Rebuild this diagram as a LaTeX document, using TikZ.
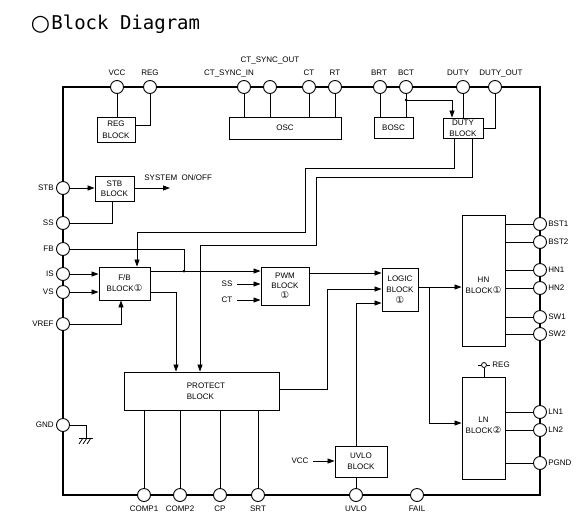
\documentclass[tikz,border=0pt]{standalone}
\usepackage{fontspec}
\setmainfont{Liberation Sans}
\newfontfamily\dvs{DejaVu Sans}
\newfontfamily\dvm{DejaVu Sans Mono}
\usetikzlibrary{arrows.meta,calc}
\newcommand{\cn}[1]{{\fontsize{9.5}{9.5}\selectfont\dvs #1}}
\begin{document}
\begin{tikzpicture}[x=1pt,y=-1pt,
  font=\fontsize{8}{11}\selectfont, line width=0.8pt,
  frame/.style={line width=2.8pt},
  pinc/.style={circle,draw,fill=white,line width=0.9pt,minimum size=13pt,inner sep=0pt},
  blk/.style={draw,fill=white,align=center,inner sep=0pt,line width=0.9pt},
  lbl/.style={inner sep=0pt},
  arr/.style={-{Triangle[length=7pt,width=5pt]}},
  dot/.style={circle,fill,inner sep=0pt,minimum size=3pt}]
\useasboundingbox (0,0) rectangle (586,523);

% title
\node[anchor=base west,inner sep=0pt] (tcirc) at (30.5,30) {\fontsize{22}{22}\selectfont\dvs ○};
\node[anchor=base west,inner sep=0pt] (title) at (51,29) {\fontsize{19}{19}\selectfont\dvm Block Diagram};

% frame
\draw[frame] (63,87) rectangle (540,495);

% top pins
\foreach \n/\x in {vcc/117,reg/150,ctsi/244,ctso/270,ct/309,rt/335,brt/380,bct/406,duty/463,dutyo/495}
  \node[pinc] (\n) at (\x,87) {};
\node[lbl] (lvcc) at (117,73) {VCC};
\node[lbl] (lreg) at (150,73) {REG};
\node[lbl] (lctsi) at (229,73) {CT\_SYNC\_IN};
\node[lbl] (lctso) at (270,60) {CT\_SYNC\_OUT};
\node[lbl] (lct) at (309,73) {CT};
\node[lbl] (lrt) at (335,73) {RT};
\node[lbl] (lbrt) at (379,73) {BRT};
\node[lbl] (lbct) at (406,73) {BCT};
\node[lbl] (lduty) at (458,73) {DUTY};
\node[lbl] (ldutyo) at (501,73) {DUTY\_OUT};

% left pins
\foreach \n/\y/\t in {stb/188/STB,ss/223/SS,fb/249/FB,is/274/IS,vs/292/VS,vref/324/VREF,gnd/425/GND}{
  \node[pinc] (\n) at (63,\y) {};
  \node[lbl,anchor=east] (l\n) at (54,\y) {\t};
}
% right pins
\foreach \n/\y/\t in {bst1/224/BST1,bst2/242/BST2,hn1/270/HN1,hn2/288/HN2,sw1/317/SW1,sw2/334/SW2,ln1/412/LN1,ln2/430/LN2,pgnd/463/PGND}{
  \node[pinc] (\n) at (540,\y) {};
  \node[lbl,anchor=west] (l\n) at (548,\y) {\t};
}
% bottom pins
\foreach \n/\x/\t in {comp1/144/COMP1,comp2/180/COMP2,cp/220/CP,srt/258/SRT,uvlo/356/UVLO,fail/417/FAIL}{
  \node[pinc] (\n) at (\x,495) {};
  \node[lbl] (l\n) at (\x,509) {\t};
}

% blocks
\node[blk,minimum width=38pt,minimum height=25pt,font=\fontsize{8}{12}\selectfont] (regb) at (116,129.5) {REG\\BLOCK};
\node[blk,minimum width=112pt,minimum height=22pt] (osc) at (285,128) {OSC};
\node[blk,minimum width=39pt,minimum height=21pt] (bosc) at (393.5,127.5) {BOSC};
\node[blk,minimum width=40pt,minimum height=20pt] (dutyb) at (463,128) {DUTY\\BLOCK};
\node[blk,minimum width=39pt,minimum height=25pt,font=\fontsize{8}{10}\selectfont] (stbb) at (114.5,188.5) {STB\\BLOCK};
\node[blk,minimum width=51pt,minimum height=33pt] (fbb) at (124.5,283.5) {F/B\\BLOCK\cn{①}};
\node[blk,minimum width=48pt,minimum height=38pt,font=\fontsize{8}{10}\selectfont] (pwmb) at (285,286) {PWM\\BLOCK\\\cn{①}};
\node[blk,minimum width=36pt,minimum height=43pt,font=\fontsize{8}{11}\selectfont] (logicb) at (400,289.5) {LOGIC\\BLOCK\\\cn{①}};
\node[blk,minimum width=43pt,minimum height=131pt] (hnb) at (483.5,280.5) {};
\node[lbl,align=center] (hnt) at (483.5,285) {HN\\BLOCK\cn{①}};
\node[blk,minimum width=43pt,minimum height=102pt] (lnb) at (483.5,428) {};
\node[lbl,align=center] (lnt) at (483.5,425) {LN\\BLOCK\cn{②}};
\node[blk,minimum width=155pt,minimum height=38pt] (prot) at (201.5,391) {};
\node[lbl,align=left] (prott) at (206,391) {PROTECT\\BLOCK};
\node[blk,minimum width=52pt,minimum height=31pt] (uvlob) at (361,461.5) {UVLO\\BLOCK};

% top connections
\draw (vcc) -- (vcc |- regb.north);
\draw (reg) |- ([yshift=4.5pt]regb.east);
\foreach \p in {ctsi,ctso,ct,rt} \draw (\p) -- (\p |- osc.north);
\draw (brt) -- (brt |- bosc.north);
\draw (bct) -- (bct |- bosc.north);
\coordinate (bctj) at (406,100);
\node[dot] (bctdot) at (bctj) {};
\draw[arr] (bctj) -| ([xshift=-11pt]dutyb.north);
\draw (duty) -- (duty |- dutyb.north);
\draw (dutyo) |- (dutyb.east);

% duty outputs
\coordinate (da) at (305,168);
\coordinate (db) at (137,232);
\draw[arr] ([xshift=-9pt]dutyb.south) |- (da) |- (db) -- (db |- fbb.north);
\coordinate (dc) at (316,177);
\coordinate (dd) at (200,245);
\draw[arr] ([xshift=9pt]dutyb.south) |- (dc) |- (dd) -- (dd |- prot.north);

% STB
\draw[arr] (stb) -- (stbb.west |- stb);
\coordinate (sysend) at (170,188);
\draw[arr] (stbb.east |- sysend) -- (sysend);
\node[lbl,anchor=west] (sysl) at (144,178) {SYSTEM\ \ ON/OFF};
\draw (ss) -| ([xshift=-2.5pt]stbb.south);

% F/B
\coordinate (jfb) at (184,271);
\draw (fb) -| (jfb);
\node[dot] (jdot) at (jfb) {};
\draw[arr] (fbb.east |- jfb) -- (pwmb.west |- jfb);
\coordinate (fbo2) at (176,292);
\draw[arr] (fbb.east |- fbo2) -| (fbo2 |- prot.north);
\draw[arr] (is) -- (fbb.west |- is);
\draw[arr] (vs) -- (fbb.west |- vs);
\draw[arr] (vref) -| ([xshift=-3.5pt]fbb.south);

% PWM inputs
\node[lbl] (sslbl) at (227,284) {SS};
\node[lbl] (ctlbl) at (227,300) {CT};
\coordinate (ssa) at (237,284);
\coordinate (cta) at (237,300);
\draw[arr] (ssa) -- (pwmb.west |- ssa);
\draw[arr] (cta) -- (pwmb.west |- cta);
\coordinate (pwmo) at (350,273);
\draw[arr] (pwmb.east |- pwmo) -- (logicb.west |- pwmo);

% protect to logic
\coordinate (pro) at (327,389);
\coordinate (lg2) at (327,289);
\draw[arr] (prot.east |- pro) -- (pro) -- (lg2) -- (logicb.west |- lg2);
% uvlo to logic
\coordinate (uv) at (356,303);
\draw[arr] (uv |- uvlob.north) -- (uv) -- (logicb.west |- uv);
\node[lbl] (vcc2l) at (300,461) {VCC};
\coordinate (vcca) at (313,461);
\draw[arr] (vcca) -- (uvlob.west |- vcca);
\draw (uvlo) -- (uvlo |- uvlob.south);

% logic outputs
\coordinate (lo) at (429,287);
\coordinate (lo2) at (429,423);
\draw[arr] (logicb.east |- lo) -- (hnb.west |- lo);
\draw[arr] (lo) -- (lo2) -- (lnb.west |- lo2);

% HN / LN pins
\foreach \p in {bst1,bst2,hn1,hn2,sw1,sw2} \draw (hnb.east |- \p) -- (\p);
\foreach \p in {ln1,ln2,pgnd} \draw (lnb.east |- \p) -- (\p);

% LN REG
\node[circle,draw,fill=white,inner sep=0pt,minimum size=5pt,line width=0.8pt] (lnreg) at (484,365) {};
\draw (478,365) -- (lnreg.west);
\draw (lnreg.east) -- (490,365);
\draw (lnreg) -- (lnreg |- lnb.north);
\node[lbl,anchor=west] (lnregl) at (492,365) {REG};

% protect bottom
\foreach \p in {comp1,comp2,cp,srt} \draw (\p) -- (\p |- prot.south);

% GND
\coordinate (gg) at (86,438);
\draw (gnd) -| (gg);
\draw (79,438) -- (93,438);
\foreach \hx in {83,87,91} \draw (\hx,438) -- ++(-4,6);
\end{tikzpicture}
\end{document}
